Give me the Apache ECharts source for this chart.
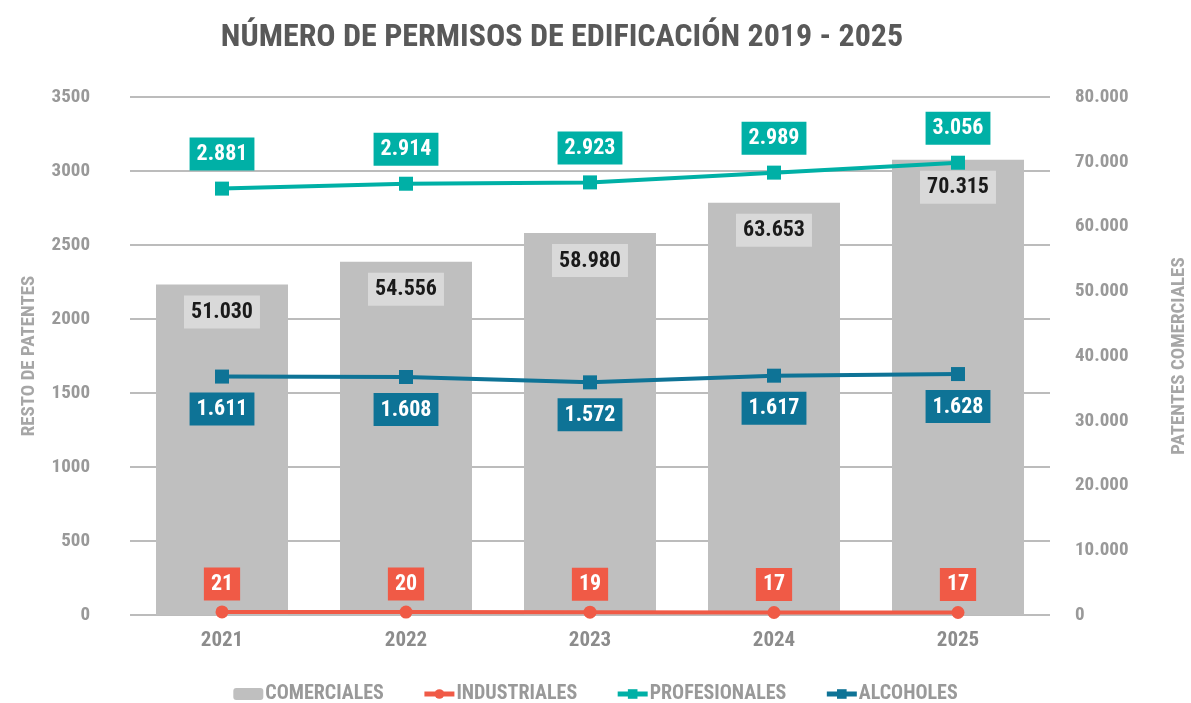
<!DOCTYPE html>
<html>
<head>
<meta charset="utf-8">
<title>Permisos de edificación</title>
<script src="https://cdn.jsdelivr.net/npm/echarts@6/dist/echarts.min.js"></script>
<style>
  html, body { margin: 0; padding: 0; background: #fff; }
  #chart { width: 1191px; height: 703px; }
</style>
</head>
<body>
<div id="chart"></div>
<script>
// datos
const years = ['2021', '2022', '2023', '2024', '2025'];
const comerciales = [51030, 54556, 58980, 63653, 70315];
const industriales = [21, 20, 19, 17, 17];
const profesionales = [2881, 2914, 2923, 2989, 3056];
const alcoholes = [1611, 1608, 1572, 1617, 1628];

const FONT = '"Roboto Condensed", "Roboto", sans-serif';
const GRAY = '#999999';

// formato con punto de miles
const fmt = v => String(v).replace(/\B(?=(\d{3})+(?!\d))/g, '.');

function boxLabel(pos, bg, color, dist) {
  return {
    show: true, position: pos, distance: dist,
    formatter: p => fmt(p.value),
    backgroundColor: bg, color: color,
    fontFamily: FONT, fontWeight: 'bold', fontSize: 22,
    padding: [5, 7, 4, 7], lineHeight: 24
  };
}

const chart = echarts.init(document.getElementById('chart'));
chart.setOption({
  backgroundColor: '#fff',
  animation: false,
  title: {
    text: 'NÚMERO DE PERMISOS DE EDIFICACIÓN 2019 - 2025',
    left: 557, top: 17, textAlign: 'center',
    textStyle: { fontFamily: FONT, fontWeight: 'bold', fontSize: 32, color: '#595959' }
  },
  legend: {
    top: 679, left: 'center', itemGap: 38, itemWidth: 30, itemHeight: 12,
    lineStyle: { width: 5 },
    textStyle: { fontFamily: FONT, fontWeight: 'bold', fontSize: 20, color: GRAY, padding: [0, 0, 0, -3] },
    data: ['COMERCIALES', 'INDUSTRIALES', 'PROFESIONALES', 'ALCOHOLES']
  },
  grid: { left: 130, right: 141, top: 97, bottom: 88, outerBoundsMode: 'none' },
  xAxis: {
    type: 'category', data: years,
    axisLine: { show: false }, axisTick: { show: false },
    axisLabel: { fontFamily: FONT, fontWeight: 'bold', fontSize: 21, color: '#8c8c8c', margin: 15 }
  },
  yAxis: [
    {
      type: 'value', min: 0, max: 3500, interval: 500,
      name: 'RESTO DE PATENTES', nameLocation: 'middle', nameGap: 91, nameRotate: 90,
      nameTextStyle: { fontFamily: FONT, fontWeight: 'bold', fontSize: 19, color: '#a6a6a6' },
      axisLine: { show: false }, axisTick: { show: false },
      axisLabel: { fontFamily: FONT, fontWeight: 'bold', fontSize: 19, color: GRAY, margin: 40, formatter: v => String(v) },
      splitLine: { lineStyle: { color: '#a6a6a6', width: 1.5 } }
    },
    {
      type: 'value', min: 0, max: 80000, interval: 10000,
      name: 'PATENTES COMERCIALES', nameLocation: 'middle', nameGap: 120, nameRotate: 90,
      nameTextStyle: { fontFamily: FONT, fontWeight: 'bold', fontSize: 19, color: '#a6a6a6' },
      axisLine: { show: false }, axisTick: { show: false }, splitLine: { show: false },
      axisLabel: { fontFamily: FONT, fontWeight: 'bold', fontSize: 19, color: GRAY, margin: 25, formatter: fmt }
    }
  ],
  series: [
    {
      name: 'COMERCIALES', type: 'bar', yAxisIndex: 1, data: comerciales, barWidth: 132,
      itemStyle: { color: '#bfbfbf' },
      label: boxLabel('insideTop', '#d9d9d9', '#1a1a1a', 11),
      z: 2
    },
    {
      name: 'INDUSTRIALES', type: 'line', data: industriales,
      symbol: 'circle', symbolSize: 13,
      lineStyle: { color: '#f05a46', width: 4 }, itemStyle: { color: '#f05a46' },
      label: boxLabel('top', '#f05a46', '#fff', 5), z: 5
    },
    {
      name: 'PROFESIONALES', type: 'line', data: profesionales,
      symbol: 'rect', symbolSize: 14,
      lineStyle: { color: '#00b0a6', width: 4 }, itemStyle: { color: '#00b0a6' },
      label: boxLabel('top', '#00b0a6', '#fff', 11), z: 5
    },
    {
      name: 'ALCOHOLES', type: 'line', data: alcoholes,
      symbol: 'rect', symbolSize: 14,
      lineStyle: { color: '#0e7396', width: 4 }, itemStyle: { color: '#0e7396' },
      label: boxLabel('bottom', '#0e7396', '#fff', 9), z: 5
    }
  ]
});
</script>
</body>
</html>
